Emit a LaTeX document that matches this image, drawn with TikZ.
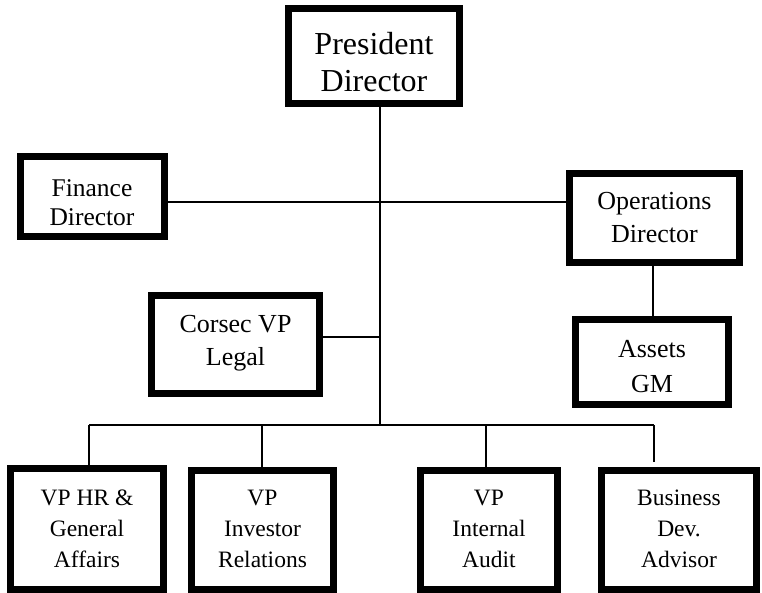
\documentclass[tikz,border=0pt]{standalone}
\usepackage{fontspec}
\setmainfont{Liberation Serif}
\tikzset{
  box/.style={draw=black, line width=7pt, fill=white, inner sep=0pt, rectangle},
  label/.style={inner sep=0pt, align=center, anchor=base},
  upper/.style={label, font=\fontsize{26}{33}\selectfont},
  lower/.style={label, font=\fontsize{23.5}{31}\selectfont},
  link/.style={line width=2pt, draw=black}
}
\begin{document}
\begin{tikzpicture}[x=1pt, y=-1pt]
\useasboundingbox (0,0) rectangle (762,593);
\clip (0,0) rectangle (762,593);
\fill[white] (0,0) rectangle (762,593);
% coordinates for connectors
\coordinate (trunkend) at (380,425);
\coordinate (h1) at (380,202);
\coordinate (h2) at (380,337);
\coordinate (ov) at (653,0);
\coordinate (b1) at (89,425);
\coordinate (b2) at (262,425);
\coordinate (b3) at (486,425);
\coordinate (b4) at (654,425);
\coordinate (b4e) at (654,462);
% boxes
\node[box, minimum width=171pt, minimum height=95pt] (pres) at (374,56) {};
\node[box, minimum width=144pt, minimum height=80pt] (fin) at (92.5,196.5) {};
\node[box, minimum width=170pt, minimum height=89pt] (ops) at (654.5,218) {};
\node[box, minimum width=168pt, minimum height=98pt] (cor) at (235.5,344.5) {};
\node[box, minimum width=153pt, minimum height=85pt] (assets) at (652,362) {};
\node[box, minimum width=153pt, minimum height=121pt] (hr) at (87,529) {};
\node[box, minimum width=142pt, minimum height=119pt] (inv) at (262.5,530) {};
\node[box, minimum width=137pt, minimum height=119pt] (aud) at (489,530) {};
\node[box, minimum width=155pt, minimum height=119pt] (biz) at (679,530) {};
% texts (anchored at the baseline of their last line)
\node[label, font=\fontsize{32}{37}\selectfont] (pres-t) at (374,92) {President\\Director};
\node[label, font=\fontsize{25.5}{29}\selectfont] (fin-t) at (92,226) {Finance\\Director};
\node[upper] (ops-t) at (654.5,243) {Operations\\Director};
\node[upper] (cor-t) at (235.5,365) {Corsec VP\\Legal};
\node[upper, font=\fontsize{26}{35}\selectfont] (assets-t) at (652,392) {Assets\\GM};
\node[lower] (hr-t) at (87,567) {VP HR \&\\General\\Affairs};
\node[lower] (inv-t) at (262.5,567) {VP\\Investor\\Relations};
\node[lower] (aud-t) at (489,567) {VP\\Internal\\Audit};
\node[lower] (biz-t) at (679,567) {Business\\Dev.\\Advisor};
% connectors
\draw[link] (pres.south -| trunkend) -- (trunkend);
\draw[link] (fin.east |- h1) -- (ops.west |- h1);
\draw[link] (cor.east |- h2) -- (h2);
\draw[link] (ops.south -| ov) -- (assets.north -| ov);
\draw[link] (b1) -- (b4);
\draw[link] (b1) -- (hr.north -| b1);
\draw[link] (b2) -- (inv.north -| b2);
\draw[link] (b3) -- (aud.north -| b3);
\draw[link] (b4) -- (b4e);
\end{tikzpicture}
\end{document}
